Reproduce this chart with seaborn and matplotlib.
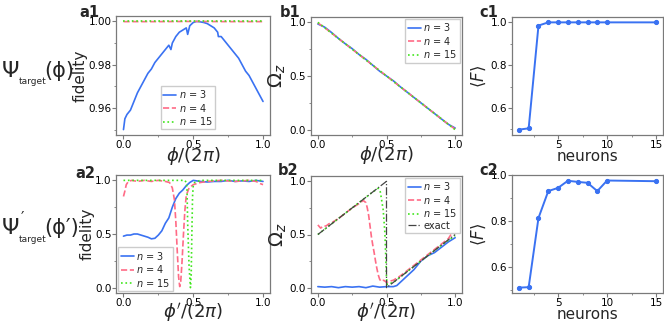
import numpy as np
import seaborn as sns
import matplotlib.pyplot as plt
from matplotlib.ticker import AutoMinorLocator

# ---- data ----
# a1: fidelity vs phi/(2pi)
a1_x = [0.0, 0.01, 0.025, 0.05, 0.075, 0.1, 0.125, 0.15, 0.175, 0.2, 0.225, 0.25,
        0.275, 0.3, 0.325, 0.34, 0.35, 0.375, 0.4, 0.425, 0.45, 0.46, 0.475, 0.5,
        0.525, 0.55, 0.575, 0.6, 0.625, 0.65, 0.675, 0.68, 0.7, 0.725, 0.75, 0.775,
        0.8, 0.825, 0.85, 0.875, 0.9, 0.925, 0.95, 0.975, 1.0]
a1_n3 = [0.950, 0.955, 0.957, 0.959, 0.963, 0.967, 0.970, 0.973, 0.976, 0.978, 0.981, 0.983,
         0.985, 0.987, 0.989, 0.987, 0.990, 0.993, 0.995, 0.996, 0.997, 0.994, 0.998, 0.9995,
         1.000, 0.9998, 0.9995, 0.999, 0.998, 0.997, 0.995, 0.993, 0.993, 0.991, 0.989, 0.987,
         0.985, 0.983, 0.980, 0.977, 0.975, 0.972, 0.969, 0.966, 0.963]
a1_flat_x = [0.0, 0.25, 0.5, 0.75, 1.0]
a1_n4 = [0.9999, 0.9999, 1.0, 0.9999, 0.9999]
a1_n15 = [1.0, 1.0, 1.0, 1.0, 1.0]

# b1: Omega_z vs phi/(2pi)
b1_x = [0.0, 0.05, 0.1, 0.15, 0.2, 0.25, 0.3, 0.35, 0.4, 0.45, 0.5, 0.55, 0.6, 0.65,
        0.7, 0.75, 0.8, 0.85, 0.9, 0.95, 1.0]
b1_n3 = [0.985, 0.955, 0.905, 0.85, 0.80, 0.755, 0.70, 0.655, 0.60, 0.545, 0.50, 0.455,
         0.40, 0.35, 0.30, 0.25, 0.20, 0.15, 0.10, 0.05, 0.015]
b1_n4 = [0.995, 0.95, 0.90, 0.85, 0.80, 0.75, 0.70, 0.65, 0.60, 0.55, 0.50, 0.45,
         0.40, 0.35, 0.30, 0.25, 0.20, 0.15, 0.10, 0.05, 0.005]
b1_n15 = [1.0, 0.95, 0.90, 0.85, 0.80, 0.75, 0.70, 0.65, 0.60, 0.55, 0.50, 0.45,
          0.40, 0.35, 0.30, 0.25, 0.20, 0.15, 0.10, 0.05, 0.0]

# c: mean fidelity vs neurons
neurons = [1, 2, 3, 4, 5, 6, 7, 8, 9, 10, 15]
c1_F = [0.499, 0.505, 0.985, 1.0, 1.0, 1.0, 1.0, 1.0, 1.0, 1.0, 1.0]
c2_F = [0.510, 0.512, 0.813, 0.930, 0.944, 0.975, 0.970, 0.966, 0.930, 0.976, 0.973]

# a2: fidelity vs phi'/(2pi)
a2_n3_x = [0.0, 0.025, 0.05, 0.075, 0.1, 0.125, 0.15, 0.175, 0.2, 0.225, 0.25, 0.275,
           0.3, 0.325, 0.35, 0.375, 0.4, 0.425, 0.45, 0.475, 0.5, 0.55, 0.6, 0.65,
           0.7, 0.75, 0.8, 0.85, 0.9, 0.95, 1.0]
a2_n3 = [0.48, 0.49, 0.49, 0.50, 0.50, 0.49, 0.48, 0.47, 0.455, 0.46, 0.49, 0.53,
         0.60, 0.65, 0.75, 0.83, 0.88, 0.91, 0.95, 0.98, 1.00, 0.99, 0.985, 0.99,
         0.99, 1.0, 0.99, 0.995, 0.99, 1.0, 0.99]
a2_n4_x = [0.0, 0.01, 0.02, 0.035, 0.06, 0.1, 0.15, 0.2, 0.25, 0.3, 0.33, 0.35, 0.365,
           0.375, 0.385, 0.395, 0.403, 0.41, 0.42, 0.43, 0.44, 0.45, 0.47, 0.5, 0.55,
           0.6, 0.7, 0.8, 0.9, 0.95, 0.98, 1.0]
a2_n4 = [0.85, 0.90, 0.96, 0.99, 1.0, 0.99, 1.0, 0.99, 1.0, 0.99, 0.98, 0.93, 0.82,
         0.62, 0.35, 0.10, 0.01, 0.05, 0.25, 0.50, 0.72, 0.86, 0.93, 0.96, 0.98,
         0.99, 1.0, 0.99, 1.0, 0.99, 0.97, 0.96]
a2_n15_x = [0.0, 0.2, 0.4, 0.44, 0.45, 0.455, 0.46, 0.47, 0.48, 0.485, 0.49, 0.495,
            0.5, 0.51, 0.53, 0.55, 0.7, 0.85, 1.0]
a2_n15 = [1.0, 1.0, 1.0, 1.0, 0.98, 0.93, 0.60, 0.20, 0.0, 0.10, 0.50, 0.85,
          0.95, 0.98, 0.99, 1.0, 1.0, 1.0, 1.0]

# b2: Omega_z vs phi'/(2pi)
b2_exact_x = [0.0, 0.5, 0.5, 1.0]
b2_exact = [0.5, 1.0, 0.0, 0.5]
b2_n3_x = [0.0, 0.05, 0.1, 0.15, 0.2, 0.25, 0.3, 0.35, 0.4, 0.45, 0.5, 0.55, 0.575,
           0.6, 0.65, 0.7, 0.75, 0.8, 0.85, 0.9, 0.95, 1.0]
b2_n3 = [0.01, 0.005, 0.01, 0.0, 0.01, 0.005, 0.01, 0.0, 0.015, 0.005, 0.01, 0.01, 0.02,
         0.05, 0.11, 0.17, 0.25, 0.30, 0.33, 0.38, 0.43, 0.47]
b2_n4_x = [0.0, 0.02, 0.04, 0.06, 0.08, 0.1, 0.15, 0.2, 0.25, 0.3, 0.33, 0.35, 0.36,
           0.37, 0.38, 0.39, 0.4, 0.41, 0.42, 0.43, 0.44, 0.45, 0.46, 0.48, 0.5,
           0.52, 0.55, 0.6, 0.65, 0.7, 0.75, 0.8, 0.85, 0.9, 0.95, 1.0]
b2_n4 = [0.59, 0.56, 0.58, 0.58, 0.60, 0.61, 0.65, 0.70, 0.75, 0.79, 0.82, 0.80, 0.75,
         0.68, 0.58, 0.48, 0.40, 0.33, 0.25, 0.18, 0.12, 0.08, 0.06, 0.07, 0.05,
         0.06, 0.07, 0.11, 0.16, 0.21, 0.26, 0.31, 0.36, 0.41, 0.46, 0.56]
b2_n15_x = [0.0, 0.1, 0.2, 0.3, 0.4, 0.44, 0.455, 0.465, 0.476, 0.488, 0.495, 0.5, 0.505,
            0.55, 0.6, 0.7, 0.8, 0.9, 1.0]
b2_n15 = [0.5, 0.6, 0.7, 0.8, 0.9, 0.935, 0.90, 0.82, 0.73, 0.52, 0.28, 0.09, 0.03,
          0.05, 0.10, 0.20, 0.30, 0.40, 0.49]

labels = ["$n$ = 3", "$n$ = 4", "$n$ = 15"]
blue, red, green = "#3a72f2", "#ff6b86", "#3fe61c"

sns.set_style("ticks")
plt.rcParams["font.family"] = ["DejaVu Sans"]
plt.rcParams["mathtext.fontset"] = "dejavusans"
plt.rcParams["axes.edgecolor"] = "#7a7a7a"
plt.rcParams["xtick.color"] = "#7a7a7a"
plt.rcParams["ytick.color"] = "#7a7a7a"
plt.rcParams["xtick.labelcolor"] = "black"
plt.rcParams["ytick.labelcolor"] = "black"

W, H = 664, 325
fig = plt.figure(figsize=(W / 100, H / 100), dpi=100)


def box(l, t, r, b):
    return [l / W, 1 - b / H, (r - l) / W, (b - t) / H]


ax_a1 = fig.add_axes(box(116.5, 16, 270, 135))
ax_b1 = fig.add_axes(box(311, 17, 462, 135))
ax_c1 = fig.add_axes(box(512, 17, 663, 135))
ax_a2 = fig.add_axes(box(116.5, 175, 270, 293))
ax_b2 = fig.add_axes(box(311, 176, 462, 293))
ax_c2 = fig.add_axes(box(512, 175, 663, 293))

lw = 1.2
kw = dict(estimator=None, sort=False)

# a1
sns.lineplot(x=a1_x, y=a1_n3, ax=ax_a1, color=blue, lw=lw, label=labels[0], **kw)
sns.lineplot(x=a1_flat_x, y=a1_n4, ax=ax_a1, color=red, lw=lw, ls="--", label=labels[1], **kw)
sns.lineplot(x=a1_flat_x, y=a1_n15, ax=ax_a1, color=green, lw=lw, ls=":", label=labels[2], **kw)
ax_a1.set_yticks([0.96, 0.98, 1.00])
ax_a1.set_ylabel("fidelity", fontsize=11)
ax_a1.set_xlabel(r"$\phi/(2\pi)$", fontsize=13)

# b1
sns.lineplot(x=b1_x, y=b1_n3, ax=ax_b1, color=blue, lw=lw, label=labels[0], **kw)
sns.lineplot(x=b1_x, y=b1_n4, ax=ax_b1, color=red, lw=lw, ls="--", label=labels[1], **kw)
sns.lineplot(x=b1_x, y=b1_n15, ax=ax_b1, color=green, lw=lw, ls=":", label=labels[2], **kw)
ax_b1.set_yticks([0.0, 0.5, 1.0])
ax_b1.set_ylabel(r"$\Omega_z$", fontsize=14)
ax_b1.set_xlabel(r"$\phi/(2\pi)$", fontsize=13)

# a2
sns.lineplot(x=a2_n3_x, y=a2_n3, ax=ax_a2, color=blue, lw=lw, label=labels[0], **kw)
sns.lineplot(x=a2_n4_x, y=a2_n4, ax=ax_a2, color=red, lw=lw, ls="--", label=labels[1], **kw)
sns.lineplot(x=a2_n15_x, y=a2_n15, ax=ax_a2, color=green, lw=lw, ls=":", label=labels[2], **kw)
ax_a2.set_yticks([0.0, 0.5, 1.0])
ax_a2.set_ylabel("fidelity", fontsize=11)
ax_a2.set_xlabel(r"$\phi'/(2\pi)$", fontsize=13)

# b2
sns.lineplot(x=b2_n3_x, y=b2_n3, ax=ax_b2, color=blue, lw=lw, label=labels[0], **kw)
sns.lineplot(x=b2_n4_x, y=b2_n4, ax=ax_b2, color=red, lw=lw, ls="--", label=labels[1], **kw)
sns.lineplot(x=b2_n15_x, y=b2_n15, ax=ax_b2, color=green, lw=lw, ls=":", label=labels[2], **kw)
sns.lineplot(x=b2_exact_x, y=b2_exact, ax=ax_b2, color="#444444", lw=0.9, ls="-.", label="exact", **kw)
ax_b2.set_yticks([0.0, 0.5, 1.0])
ax_b2.set_ylabel(r"$\Omega_z$", fontsize=14)
ax_b2.set_xlabel(r"$\phi'/(2\pi)$", fontsize=13)

# c1, c2
for ax, F in [(ax_c1, c1_F), (ax_c2, c2_F)]:
    sns.lineplot(x=neurons, y=F, ax=ax, color=blue, lw=1.4, marker="o", ms=3,
                 mec=blue, **kw)
    ax.set_xticks([5, 10, 15])
    ax.set_yticks([0.6, 0.8, 1.0])
    ax.set_ylabel(r"$\langle F\rangle$", fontsize=12)
    ax.set_xlabel("neurons", fontsize=11)

for ax in [ax_a1, ax_b1, ax_a2, ax_b2]:
    ax.set_xticks([0.0, 0.5, 1.0])

for ax in [ax_a1, ax_b1, ax_c1, ax_a2, ax_b2, ax_c2]:
    ax.xaxis.set_minor_locator(AutoMinorLocator(2))
    ax.yaxis.set_minor_locator(AutoMinorLocator(2))
    ax.tick_params(which="major", length=2.6, width=0.8, labelsize=7.5, pad=1.0)
    ax.tick_params(which="minor", length=1.6, width=0.6)
    for s in ax.spines.values():
        s.set_linewidth(0.9)

# x labels: math labels anchored by their bottom edge, "neurons" by its top
for ax in [ax_a1, ax_b1, ax_a2, ax_b2]:
    ax.xaxis.label.set_va("bottom")
    ax.xaxis.set_label_coords(0.5, -0.265)
for ax in [ax_c1, ax_c2]:
    ax.xaxis.set_label_coords(0.5, -0.115)

# y label positions (right edge of rotated label, axes coords)
ax_a1.yaxis.set_label_coords(-0.19, 0.5)
ax_a2.yaxis.set_label_coords(-0.14, 0.5)
ax_b1.yaxis.set_label_coords(-0.155, 0.5)
ax_b2.yaxis.set_label_coords(-0.145, 0.5)
ax_c1.yaxis.set_label_coords(-0.16, 0.5)
ax_c2.yaxis.set_label_coords(-0.16, 0.5)

leg_kw = dict(fontsize=7, handlelength=1.3, handletextpad=0.3, labelspacing=0.15,
              borderpad=0.25, borderaxespad=0.2, framealpha=1, edgecolor="#cccccc",
              fancybox=False)
ax_a1.legend(loc="lower center", bbox_to_anchor=(0.466, 0.03), **leg_kw)
ax_b1.legend(loc="upper right", **leg_kw)
ax_a2.legend(loc="lower left", **leg_kw)
ax_b2.legend(loc="upper right", **leg_kw)

# panel letters
for txt, px, py in [("a1", 79, 5), ("b1", 280, 5), ("c1", 479, 5),
                    ("a2", 75, 166), ("b2", 278, 163), ("c2", 479, 163)]:
    fig.text(px / W, 1 - py / H, txt, fontsize=10.5, fontweight="bold", va="top", ha="left")

# row labels: Psi, subscript "target", argument
def row_label(yc, prime):
    fig.text(2 / W, 1 - yc / H, "Ψ", fontsize=16, va="center", ha="left")
    fig.text(19 / W, 1 - (yc + 11) / H, "target", fontsize=6.5, va="center", ha="left")
    if prime:
        fig.text(21 / W, 1 - (yc - 9) / H, "′", fontsize=11, va="center", ha="left")
        fig.text(44 / W, 1 - yc / H, "(ϕ′)", fontsize=15, va="center", ha="left")
    else:
        fig.text(44 / W, 1 - yc / H, "(ϕ)", fontsize=15, va="center", ha="left")


row_label(71, False)
row_label(228, True)

fig.savefig("out.png", dpi=100)
